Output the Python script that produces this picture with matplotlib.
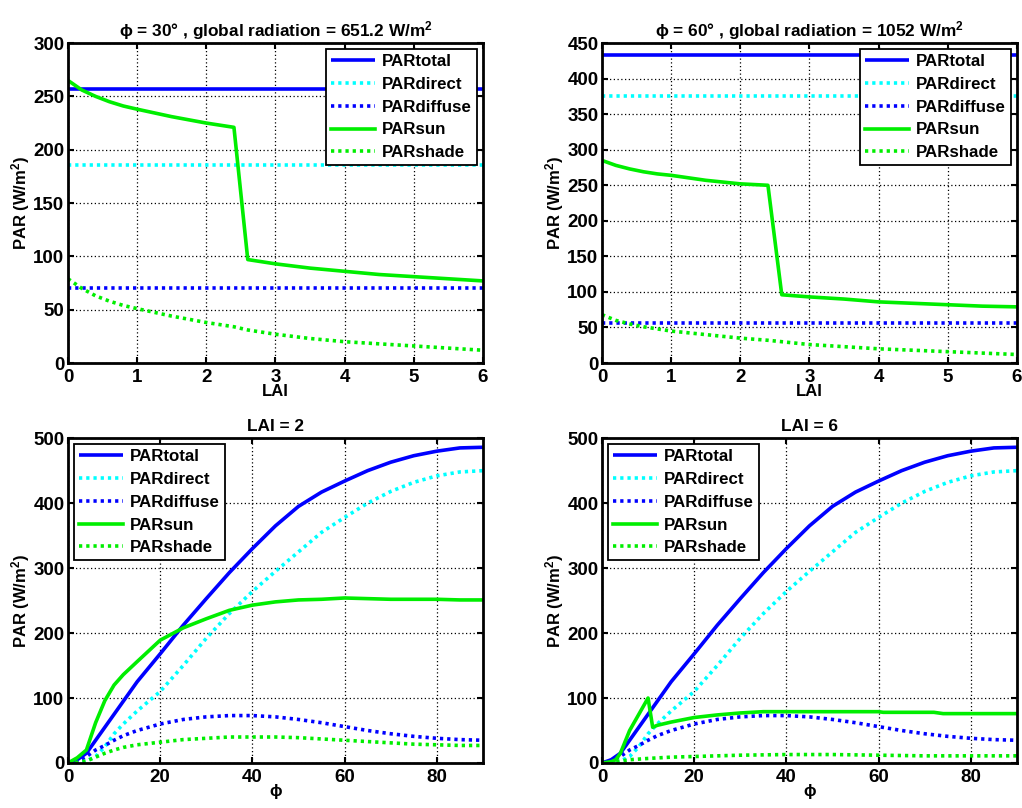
import matplotlib
matplotlib.use('Agg')
import matplotlib.pyplot as plt

plt.rcParams['font.family'] = ['Liberation Sans', 'DejaVu Sans']
plt.rcParams['font.weight'] = 'bold'
plt.rcParams['mathtext.fontset'] = 'custom'
plt.rcParams['mathtext.bf'] = 'Liberation Sans:bold'
plt.rcParams['mathtext.rm'] = 'Liberation Sans:bold'
plt.rcParams['mathtext.default'] = 'bf'

# ---- top row: PAR vs LAI ----
lai_flat = [0, 6]
lai = [0, 0.2, 0.4, 0.6, 0.8, 1, 1.5, 2, 2.4, 2.6, 3, 3.5, 4, 4.5, 5, 5.5, 6]

tot30 = [257, 257]
dir30 = [186, 186]
dif30 = [70, 70]
sun30 = [265, 256, 250, 245, 241, 238, 231, 225, 221, 97, 93, 89, 86, 83, 81, 79, 77]
shd30 = [79, 70, 63, 58, 54, 51, 44, 38, 34, 31, 27, 23, 20, 18, 16, 14, 12]

tot60 = [433, 433]
dir60 = [376, 376]
dif60 = [57, 57]
sun60 = [285, 278, 273, 269, 266, 264, 257, 252, 250, 96, 93, 90, 86, 84, 82, 80, 79]
shd60 = [68, 60, 55, 51, 48, 45, 40, 35, 32, 30, 26, 23, 20, 18, 16, 14, 12]

# ---- bottom row: PAR vs phi ----
phi = [0, 2, 4, 6, 8, 10, 12, 15, 20, 25, 30, 35, 40, 45, 50, 55, 60, 65, 70, 75, 80, 85, 90]
tot_phi = [0, 5, 15, 35, 55, 75, 95, 125, 168, 212, 253, 293, 330, 365, 395, 417, 434, 450, 463, 473, 480, 485, 486]
dir_phi = [0, 0, 3, 10, 25, 45, 60, 80, 110, 150, 192, 230, 264, 295, 325, 355, 378, 400, 418, 432, 442, 448, 450]
dif_phi = [0, 3, 10, 20, 27, 35, 42, 50, 60, 67, 71, 73, 73, 71, 67, 62, 56, 50, 45, 41, 38, 36, 35]
sun_lai2 = [0, 8, 20, 62, 96, 120, 136, 156, 189, 208, 222, 235, 243, 248, 251, 252, 254, 253, 252, 252, 252, 251, 251]
shd_lai2 = [0, 1, 3, 9, 15, 20, 24, 28, 32, 36, 38, 40, 40, 40, 39, 37, 35, 33, 31, 29, 28, 27, 27]

phi6 = [0, 2, 3, 4, 6, 8, 10, 11, 12, 15, 20, 25, 30, 35, 40, 50, 60, 61, 72, 74, 80, 90]
sun_lai6 = [0, 2, 5, 15, 50, 75, 100, 55, 58, 63, 70, 74, 77, 79, 79, 79, 79, 78, 78, 76, 76, 76]
phi6s = [0, 2, 4, 6, 10, 15, 20, 30, 40, 50, 60, 70, 80, 90]
shd_lai6 = [0, 1, 3, 5, 7, 9, 10, 12, 13, 13, 12, 11, 11, 11]

labels = ['PARtotal', 'PARdirect', 'PARdiffuse', 'PARsun', 'PARshade']
BLUE = '#0000ff'
CYAN = '#00ffff'
GREEN = '#00ee00'
DOT = (0, (0.9, 1.1))
LW = 2.6

fig = plt.figure(figsize=(10.22, 8.08), dpi=100)
W = 0.406
pos = [[0.0665, 0.5507, W, 0.396], [0.589, 0.5507, W, 0.396],
       [0.0665, 0.0557, W, 0.402], [0.589, 0.0557, W, 0.402]]


def style(ax, xlim, ylim, xticks, yticks, xlabel, title, loc):
    ax.set_xlim(xlim)
    ax.set_ylim(ylim)
    ax.set_xticks(xticks)
    ax.set_yticks(yticks)
    ax.grid(True, color='k', linestyle=(0, (1, 2)), linewidth=0.9)
    ax.set_axisbelow(True)
    for s in ax.spines.values():
        s.set_linewidth(2)
    ax.tick_params(direction='in', length=4, width=1.5, labelsize=13.5, top=True, right=True)
    ax.tick_params(axis='x', pad=4)
    ax.tick_params(axis='y', pad=2.5)
    for lab in ax.get_xticklabels() + ax.get_yticklabels():
        lab.set_fontweight('bold')
    ax.set_xlabel(xlabel, fontsize=12, fontweight='bold', labelpad=-1)
    ax.set_ylabel('PAR (W/m$^2$)', fontsize=12, fontweight='bold', labelpad=1)
    ax.set_title(title, fontsize=12.4, fontweight='bold', pad=5)
    leg = ax.legend(labels, loc=loc, fontsize=12.2, handlelength=2.6, fancybox=False,
                    framealpha=1, edgecolor='k', borderaxespad=0.35, labelspacing=0.46,
                    handletextpad=0.4, borderpad=0.3)
    leg.get_frame().set_linewidth(1.3)
    for t in leg.get_texts():
        t.set_fontweight('bold')


def draw(ax, xs_flat, tot, dr, df, xs_sun, sun, xs_shd, shd):
    ax.plot(xs_flat, tot, color=BLUE, lw=LW, solid_capstyle='butt')
    ax.plot(xs_flat, dr, color=CYAN, lw=LW, linestyle=DOT, dash_capstyle='butt')
    ax.plot(xs_flat, df, color=BLUE, lw=LW, linestyle=DOT, dash_capstyle='butt')
    ax.plot(xs_sun, sun, color=GREEN, lw=LW)
    ax.plot(xs_shd, shd, color=GREEN, lw=LW, linestyle=DOT, dash_capstyle='butt')


ax1 = fig.add_axes(pos[0])
draw(ax1, lai_flat, tot30, dir30, dif30, lai, sun30, lai, shd30)
style(ax1, (0, 6), (0, 300), range(0, 7), range(0, 301, 50), 'LAI',
      'ϕ = 30° , global radiation = 651.2 W/m$^2$', 'upper right')

ax2 = fig.add_axes(pos[1])
draw(ax2, lai_flat, tot60, dir60, dif60, lai, sun60, lai, shd60)
style(ax2, (0, 6), (0, 450), range(0, 7), range(0, 451, 50), 'LAI',
      'ϕ = 60° , global radiation = 1052 W/m$^2$', 'upper right')

ax3 = fig.add_axes(pos[2])
draw(ax3, phi, tot_phi, dir_phi, dif_phi, phi, sun_lai2, phi, shd_lai2)
style(ax3, (0, 90), (0, 500), range(0, 81, 20), range(0, 501, 100), 'ϕ',
      'LAI = 2', 'upper left')

ax4 = fig.add_axes(pos[3])
draw(ax4, phi, tot_phi, dir_phi, dif_phi, phi6, sun_lai6, phi6s, shd_lai6)
style(ax4, (0, 90), (0, 500), range(0, 81, 20), range(0, 501, 100), 'ϕ',
      'LAI = 6', 'upper left')

fig.savefig('out.png', dpi=100)
